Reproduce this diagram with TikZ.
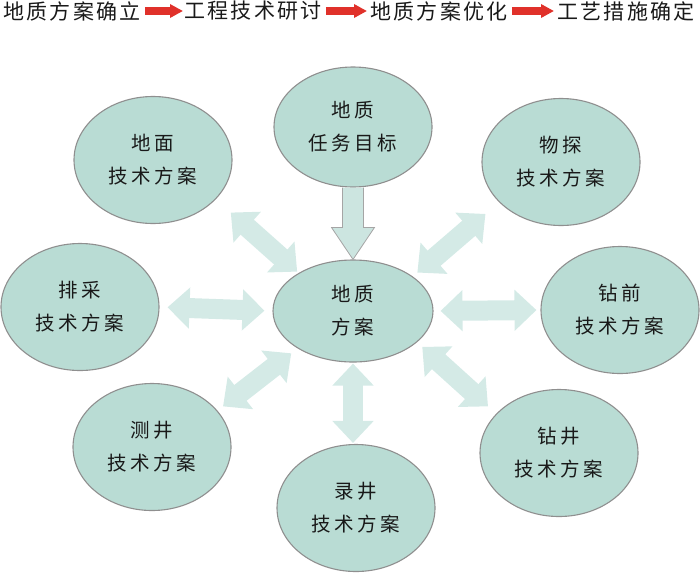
\documentclass[tikz,border=0pt]{standalone}
\usepackage{fontspec}
\usetikzlibrary{shapes.geometric,arrows.meta,calc}
\newfontfamily\cjkbar[LetterSpace=11]{Noto Sans CJK SC}
\newfontfamily\cjkell[LetterSpace=18]{Noto Sans CJK SC}
\definecolor{ellfill}{HTML}{B9DCD4}
\definecolor{ellline}{HTML}{8F8F8F}
\definecolor{arrfill}{HTML}{D4EAE6}
\definecolor{downfill}{HTML}{CCE5E0}
\definecolor{redarr}{HTML}{E0312A}
\begin{document}
\begin{tikzpicture}[x=1pt,y=-1pt,
 ell/.style={ellipse, draw=ellline, line width=1.1pt, fill=ellfill, inner sep=0pt,
   minimum width=158pt, minimum height=127pt, align=center, text=black!90,
   font=\cjkell\fontsize{19.5}{33}\selectfont},
 bar/.style={anchor=west, inner sep=0pt, font=\cjkbar\fontsize{21}{24}\selectfont, text=black!90},
 redarrow/.style={draw=redarr, line width=8pt, -{Triangle[width=13pt,length=13pt]}},
 dbl/.style={draw=arrfill, line width=20pt,
   {Triangle[width=40pt,length=22pt]}-{Triangle[width=40pt,length=22pt]}},
 downarr/.style={draw=ellline!80, line width=0.8pt, fill=downfill, line join=miter}]
\useasboundingbox (0,0) rectangle (700,573);
% top bar
\node[bar] (t1) at (3,11) {地质方案确立};
\node[bar] (t2) at (184,11) {工程技术研讨};
\node[bar] (t3) at (370,11) {地质方案优化};
\node[bar] (t4) at (557,11) {工艺措施确定};
\draw[redarrow, shorten <=4pt, shorten >=1pt] (t1.east) -- (t2.west);
\draw[redarrow, shorten <=4pt, shorten >=3pt] (t2.east) -- (t3.west);
\draw[redarrow, shorten <=4pt, shorten >=3pt] (t3.east) -- (t4.west);
% ellipses
\node[ell, minimum height=120pt] (T) at (353,127) {地质\\任务目标};
\node[ell, minimum width=160pt, minimum height=102pt] (C) at (353,311) {地质\\方案};
\node[ell] (GM) at (153,160) {地面\\技术方案};
\node[ell] (WT) at (561,162) {物探\\技术方案};
\node[ell] (PC) at (80,307) {排采\\技术方案};
\node[ell] (ZQ) at (620,310) {钻前\\技术方案};
\node[ell] (CJ) at (152,447) {测井\\技术方案};
\node[ell] (ZJ) at (559,453) {钻井\\技术方案};
\node[ell] (LJ) at (356,508) {录井\\技术方案};
% down arrow
\draw[downarr] ($(T.south)+(-10.5,0)$) -- ($(C.north)+(-10.5,-32)$) -- ($(C.north)+(-21.5,-32)$)
  -- (C.north) -- ($(C.north)+(21.5,-32)$) -- ($(C.north)+(10.5,-32)$) -- ($(T.south)+(10.5,0)$);
% double arrows
\draw[dbl, shorten <=2pt, shorten >=20pt] (C.145) -- (GM.-32);
\draw[dbl, shorten <=6pt, shorten >=18pt] (C.30) -- (WT.-147);
\draw[dbl, shorten <=8pt, shorten >=8pt] (C.180) -- (PC.0);
\draw[dbl, shorten <=7pt, shorten >=4pt] (C.0) -- (ZQ.180);
\draw[dbl, shorten <=8pt, shorten >=7pt] (C.-146) -- (CJ.29);
\draw[dbl, shorten <=7pt, shorten >=11pt] (C.-26) -- (ZJ.148);
\draw[dbl, shorten <=1pt, shorten >=1pt] (C.south) -- (C.south |- LJ.north);
\end{tikzpicture}
\end{document}
